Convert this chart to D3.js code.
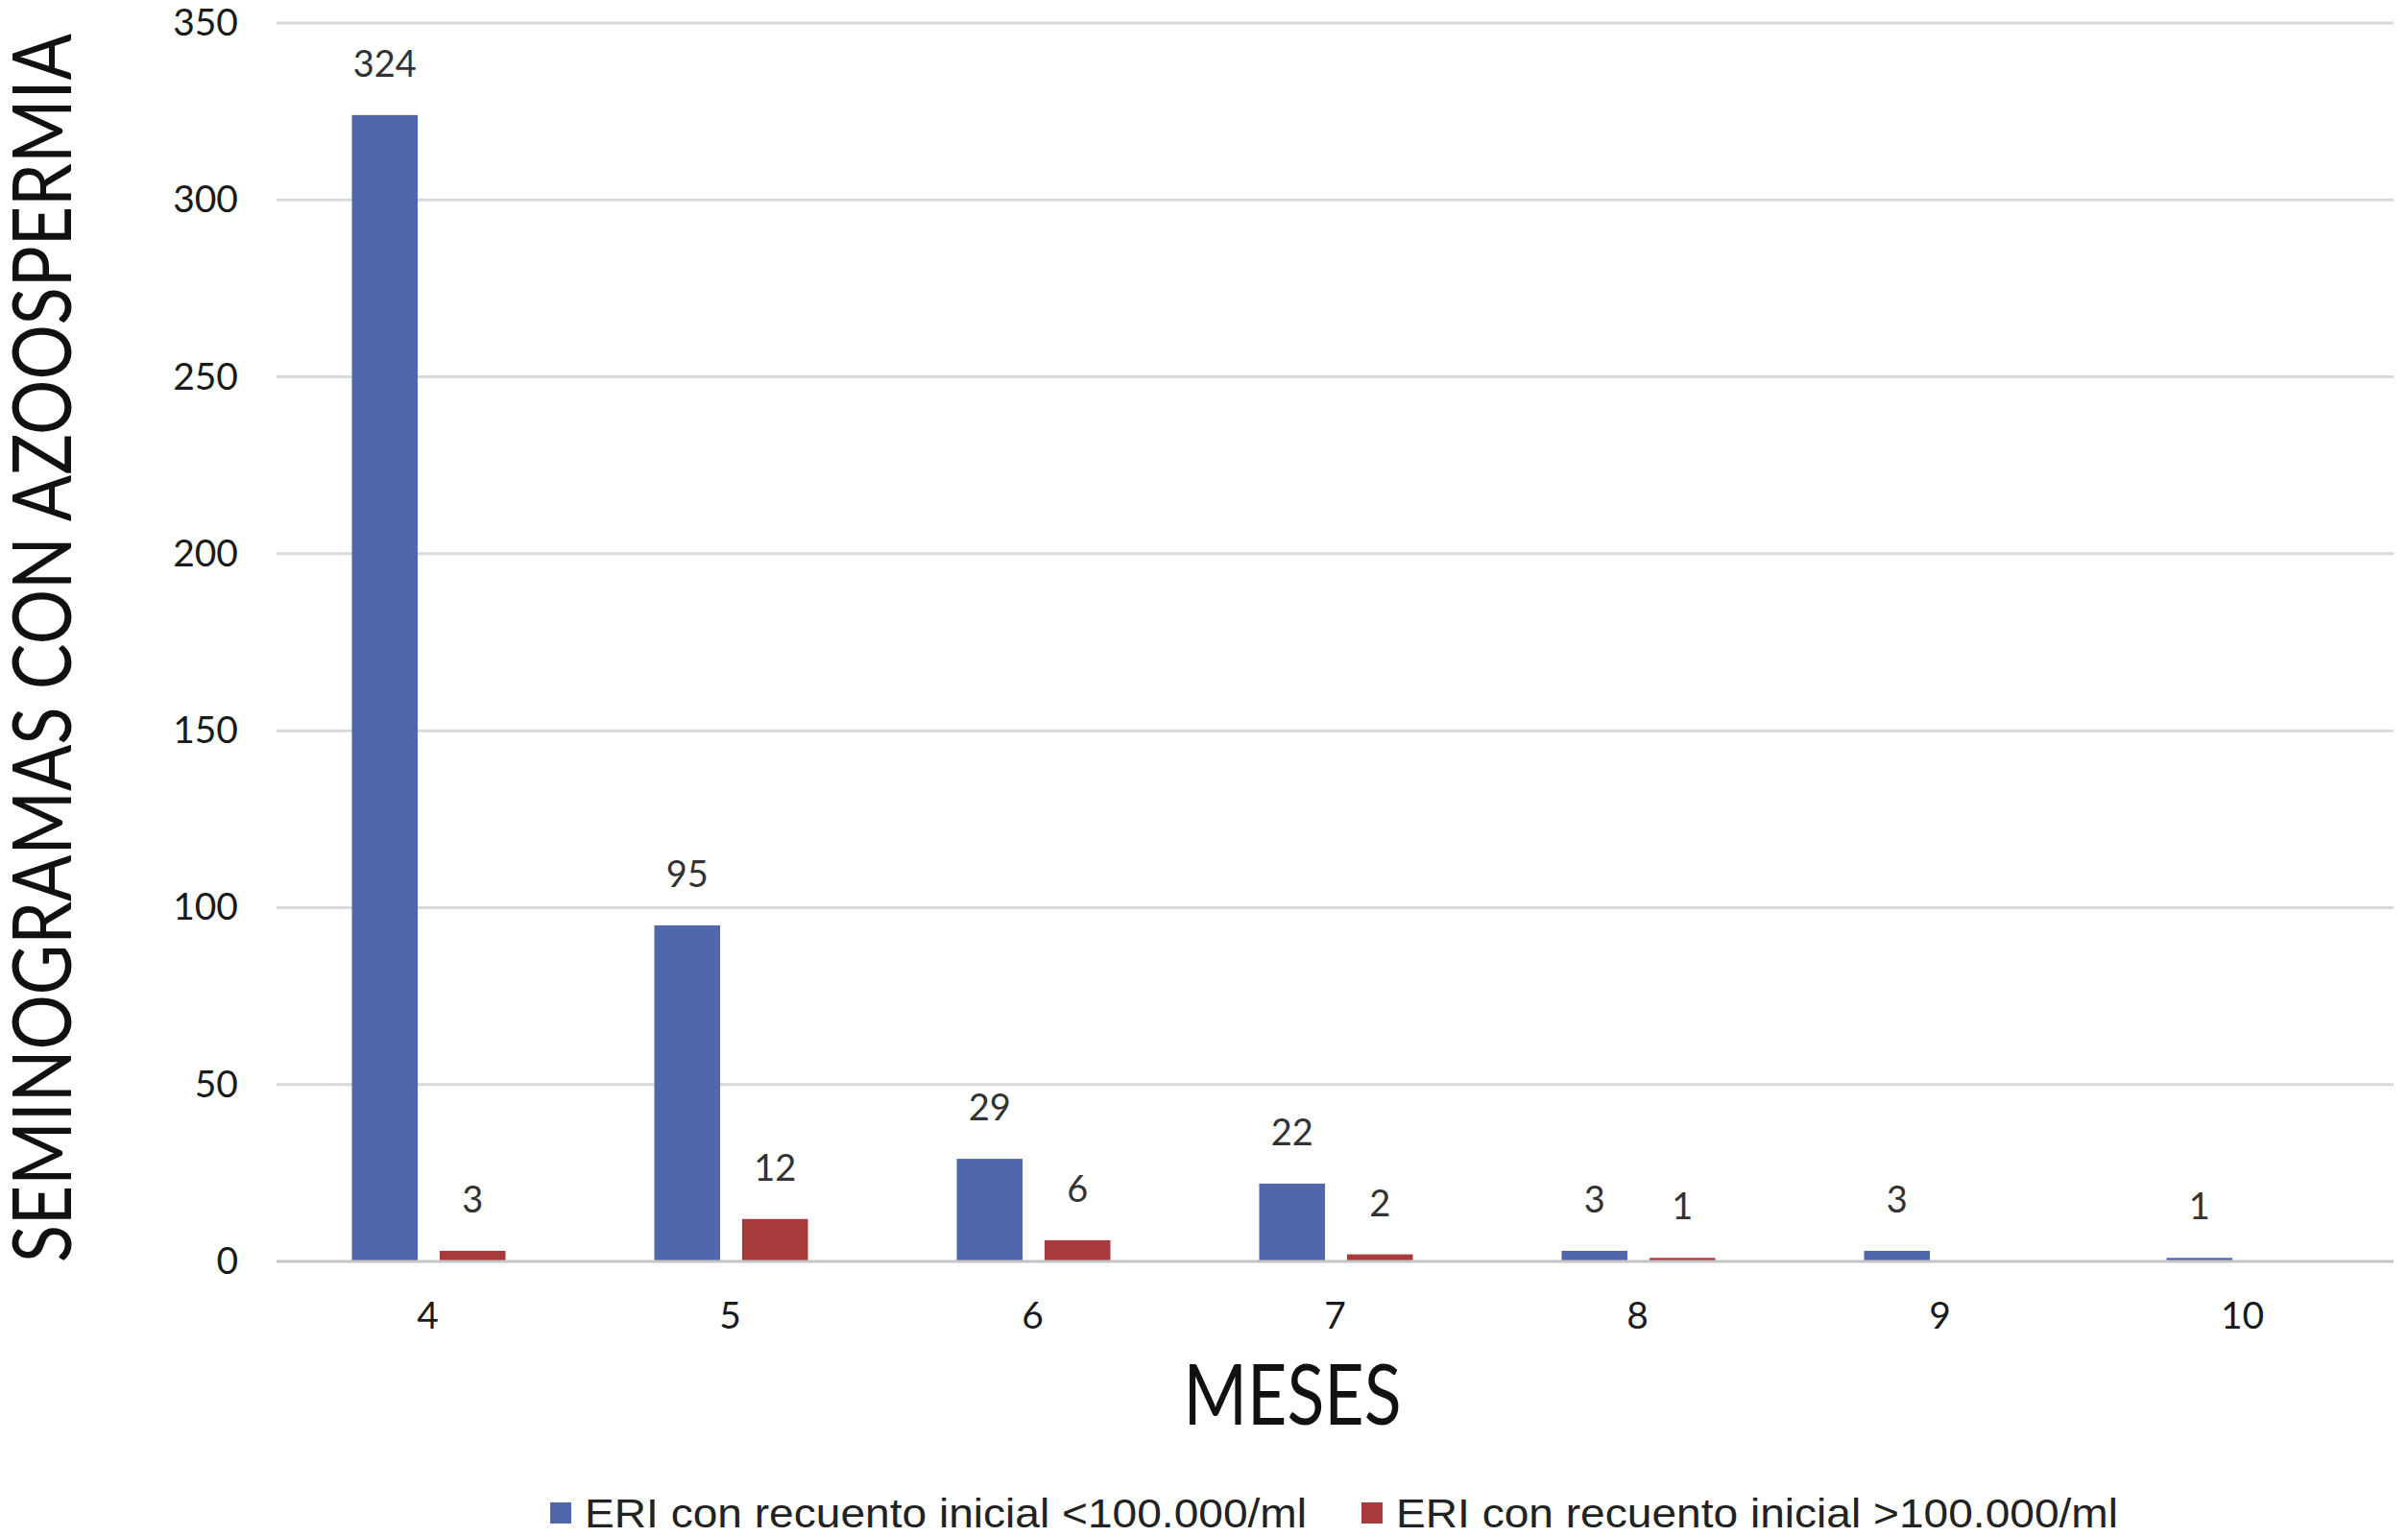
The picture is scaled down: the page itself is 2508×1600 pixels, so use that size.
<!DOCTYPE html>
<html>
<head>
<meta charset="utf-8">
<script src="https://cdn.jsdelivr.net/npm/d3@7"></script>
<style>
  body { margin: 0; background: #fff; }
  svg { display: block; }
</style>
</head>
<body>
<div id="chart"></div>
<script>
const months = ["4", "5", "6", "7", "8", "9", "10"]
const seriesNames = ["ERI con recuento inicial <100.000/ml", "ERI con recuento inicial >100.000/ml"]
const lowCount = [324, 95, 29, 22, 3, 3, 1]
const highCount = [3, 12, 6, 2, 1, null, null]
const yTicks = [0, 50, 100, 150, 200, 250, 300, 350]
const colors = ["#5166ab", "#a63a3c"]

let W = 2508, H = 1600
let margin = { top: 24, right: 15, bottom: 286, left: 288 }

let svg = d3.select("#chart")
  .append("svg")
  .attr("width", W)
  .attr("height", H)

let yScale = d3.scaleLinear()
  .domain([0, 350])
  .range([H - margin.bottom, margin.top])

let xScale = d3.scaleBand()
  .domain(months)
  .range([margin.left, W - margin.right])

let bw = xScale.bandwidth()
let xSub = d3.scaleBand()
  .domain([0, 1])
  .range([bw / 2 - 79, bw / 2 + 81])
  .paddingInner(0.25)

// gridlines
svg.append("g")
  .selectAll("line")
  .data(yTicks.filter(d => d > 0))
  .enter()
  .append("line")
    .attr("x1", margin.left)
    .attr("x2", W - margin.right)
    .attr("y1", d => yScale(d))
    .attr("y2", d => yScale(d))
    .attr("stroke", "#d9d9d9")
    .attr("stroke-width", 3)

// y axis labels
let yAxis = d3.axisLeft(yScale).tickValues(yTicks).tickSize(0).tickPadding(40)
svg.append("g")
  .attr("class", "yaxis")
  .attr("transform", "translate(" + margin.left + ",0)")
  .call(yAxis)
  .call(g => g.select(".domain").remove())
  .selectAll("text")
    .attr("font-family", "Lato, sans-serif")
    .attr("font-size", 39)
    .attr("fill", "#1a1a1a")

// bars
let rows = months.map((m, i) => ({ month: m, values: [lowCount[i], highCount[i]] }))

let groups = svg.append("g")
  .selectAll("g")
  .data(rows)
  .enter()
  .append("g")
  .attr("transform", d => "translate(" + xScale(d.month) + ",0)")

groups.selectAll("rect")
  .data(d => d.values.map((v, s) => ({ s: s, v: v })).filter(d => d.v != null))
  .enter()
  .append("rect")
    .attr("x", d => xSub(d.s))
    .attr("width", xSub.bandwidth())
    .attr("y", d => yScale(d.v))
    .attr("height", d => yScale(0) - yScale(d.v))
    .attr("fill", d => colors[d.s])

groups.selectAll("text")
  .data(d => d.values.map((v, s) => ({ s: s, v: v })).filter(d => d.v != null))
  .enter()
  .append("text")
    .attr("x", d => xSub(d.s) + xSub.bandwidth() / 2)
    .attr("y", d => yScale(d.v) - 40)
    .attr("text-anchor", "middle")
    .attr("font-family", "Lato, sans-serif")
    .attr("font-size", 38)
    .attr("fill", "#333")
    .text(d => d.v)

// baseline
svg.append("line")
  .attr("x1", margin.left)
  .attr("x2", W - margin.right)
  .attr("y1", yScale(0))
  .attr("y2", yScale(0))
  .attr("stroke", "#c4c4c4")
  .attr("stroke-width", 3)

// x axis labels
let xAxis = d3.axisBottom(xScale).tickSize(0).tickPadding(42)
svg.append("g")
  .attr("class", "xaxis")
  .attr("transform", "translate(0," + yScale(0) + ")")
  .call(xAxis)
  .call(g => g.select(".domain").remove())
  .selectAll("text")
    .attr("font-family", "Lato, sans-serif")
    .attr("font-size", 39)
    .attr("fill", "#1a1a1a")

// axis titles
svg.append("text")
  .attr("transform", "translate(74,675) rotate(-90)")
  .attr("text-anchor", "middle")
  .attr("font-family", "Lato, sans-serif")
  .attr("font-size", 86)
  .attr("textLength", 1280)
  .attr("lengthAdjust", "spacingAndGlyphs")
  .attr("fill", "#111")
  .text("SEMINOGRAMAS CON AZOOSPERMIA")

svg.append("text")
  .attr("x", 1346)
  .attr("y", 1484)
  .attr("text-anchor", "middle")
  .attr("font-family", "Lato, sans-serif")
  .attr("font-size", 88)
  .attr("textLength", 227)
  .attr("lengthAdjust", "spacingAndGlyphs")
  .attr("fill", "#111")
  .text("MESES")

// legend
let legendX = [573, 1418]
let legend = svg.append("g")
  .selectAll("g")
  .data(seriesNames)
  .enter()
  .append("g")
  .attr("transform", (d, i) => "translate(" + legendX[i] + ",1576)")

legend.append("rect")
  .attr("x", 0)
  .attr("y", -11)
  .attr("width", 22)
  .attr("height", 22)
  .attr("fill", (d, i) => colors[i])

legend.append("text")
  .attr("x", 36)
  .attr("y", 15)
  .attr("font-family", "'Liberation Sans', Arial, sans-serif")
  .attr("font-size", 42)
  .attr("textLength", 752)
  .attr("lengthAdjust", "spacingAndGlyphs")
  .attr("fill", "#222")
  .text(d => d)
</script>
</body>
</html>
